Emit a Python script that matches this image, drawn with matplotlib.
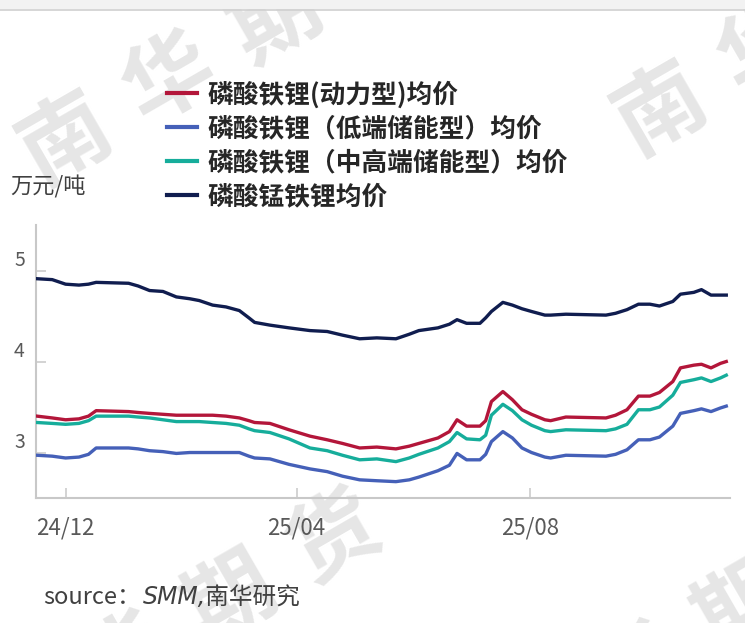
"""
Gráfico de preços médios de fosfato de ferro-lítio (LFP / LMFP).
"""
import matplotlib
matplotlib.use('Agg')
import matplotlib.pyplot as plt
import matplotlib.transforms as mtransforms
from matplotlib.patches import Rectangle
from matplotlib.lines import Line2D
import pandas as pd

plt.rcParams['font.family'] = ['Noto Sans CJK SC', 'DejaVu Sans']

# Datas (aproximadas)
datas = [
    '2024-11-16', '2024-11-24', '2024-12-01', '2024-12-08', '2024-12-13',
    '2024-12-17', '2025-01-03', '2025-01-08', '2025-01-14', '2025-01-21',
    '2025-01-28', '2025-02-04', '2025-02-09', '2025-02-16', '2025-02-23',
    '2025-03-02', '2025-03-07', '2025-03-10', '2025-03-18', '2025-03-28',
    '2025-04-08', '2025-04-17', '2025-04-25', '2025-05-04', '2025-05-13',
    '2025-05-23', '2025-05-30', '2025-06-04', '2025-06-14', '2025-06-20',
    '2025-06-24', '2025-06-29', '2025-07-06', '2025-07-09', '2025-07-12',
    '2025-07-18', '2025-07-23', '2025-07-28', '2025-08-02', '2025-08-09',
    '2025-08-12', '2025-08-20', '2025-09-10', '2025-09-15', '2025-09-21',
    '2025-09-27', '2025-10-03', '2025-10-08', '2025-10-15', '2025-10-19',
    '2025-10-26', '2025-10-30', '2025-11-04', '2025-11-09', '2025-11-12',
]

# 磷酸铁锂(动力型)均价
lfp_dinamica = [
    3.40, 3.38, 3.36, 3.37, 3.40, 3.46, 3.45, 3.44, 3.43, 3.42,
    3.41, 3.41, 3.41, 3.41, 3.40, 3.38, 3.35, 3.33, 3.32, 3.25,
    3.18, 3.14, 3.10, 3.05, 3.06, 3.04, 3.07, 3.10, 3.16, 3.23,
    3.36, 3.29, 3.29, 3.35, 3.56, 3.67, 3.58, 3.47, 3.42, 3.36,
    3.35, 3.39, 3.38, 3.41, 3.47, 3.62, 3.62, 3.66, 3.78, 3.93,
    3.96, 3.97, 3.93, 3.98, 4.00,
]

# 磷酸铁锂（低端储能型）均价
lfp_armaz_baixo = [
    2.97, 2.96, 2.94, 2.95, 2.98, 3.05, 3.05, 3.04, 3.02, 3.01,
    2.99, 3.00, 3.00, 3.00, 3.00, 3.00, 2.96, 2.94, 2.93, 2.87,
    2.82, 2.79, 2.74, 2.70, 2.69, 2.68, 2.70, 2.73, 2.80, 2.86,
    2.99, 2.92, 2.92, 2.98, 3.12, 3.23, 3.16, 3.05, 3.00, 2.95,
    2.94, 2.97, 2.96, 2.98, 3.03, 3.14, 3.14, 3.17, 3.29, 3.43,
    3.46, 3.48, 3.45, 3.49, 3.51,
]

# 磷酸铁锂（中高端储能型）均价
lfp_armaz_alto = [
    3.33, 3.32, 3.31, 3.32, 3.35, 3.40, 3.40, 3.39, 3.38, 3.36,
    3.34, 3.34, 3.34, 3.33, 3.32, 3.30, 3.26, 3.24, 3.22, 3.15,
    3.05, 3.02, 2.97, 2.92, 2.93, 2.90, 2.94, 2.98, 3.05, 3.12,
    3.22, 3.15, 3.14, 3.19, 3.41, 3.53, 3.46, 3.36, 3.30, 3.24,
    3.23, 3.25, 3.24, 3.26, 3.31, 3.47, 3.47, 3.50, 3.63, 3.77,
    3.80, 3.82, 3.78, 3.82, 3.85,
]

# 磷酸锰铁锂均价
lmfp = [
    4.91, 4.90, 4.85, 4.84, 4.85, 4.87, 4.86, 4.83, 4.78, 4.77,
    4.71, 4.69, 4.67, 4.62, 4.60, 4.56, 4.48, 4.43, 4.40, 4.37,
    4.34, 4.33, 4.29, 4.25, 4.26, 4.25, 4.30, 4.34, 4.37, 4.41,
    4.46, 4.42, 4.42, 4.48, 4.55, 4.65, 4.62, 4.58, 4.55, 4.51,
    4.51, 4.52, 4.51, 4.53, 4.57, 4.63, 4.63, 4.61, 4.66, 4.74,
    4.76, 4.79, 4.73, 4.73, 4.73,
]

rotulos = [
    '磷酸铁锂(动力型)均价',
    '磷酸铁锂（低端储能型）均价',
    '磷酸铁锂（中高端储能型）均价',
    '磷酸锰铁锂均价',
]
cores = ['#b3163a', '#4560b8', '#16ad9b', '#101d4f']
yticks = [3, 4, 5]
xticks = ['2024-12-01', '2025-04-01', '2025-08-01']
xtick_labels = ['24/12', '25/04', '25/08']


def criar_grafico(output_path='out.png'):
    fig = plt.figure(figsize=(7.45, 6.23), dpi=100)
    ax = fig.add_axes([0.0483, 0.2006, 0.9317, 0.4382])
    ax.patch.set_alpha(0)

    x = pd.to_datetime(datas)
    series = [lfp_dinamica, lfp_armaz_baixo, lfp_armaz_alto, lmfp]
    for valores, cor, rotulo in zip(series, cores, rotulos):
        ax.plot(x, valores, color=cor, lw=2.4, label=rotulo, zorder=3)

    ax.set_xlim(pd.Timestamp('2024-11-15 12:00'), pd.Timestamp('2025-11-14'))
    ax.set_ylim(2.5, 5.5)

    # Eixos: só esquerdo e inferior, cinza claro
    for lado in ['top', 'right']:
        ax.spines[lado].set_visible(False)
    for lado in ['left', 'bottom']:
        ax.spines[lado].set_color('#c8c8c8')
        ax.spines[lado].set_linewidth(1.5)

    ax.set_yticks(yticks)
    ax.set_xticks(pd.to_datetime(xticks))
    ax.set_xticklabels(xtick_labels)
    ax.tick_params(axis='both', direction='in', length=7.5, width=1.1,
                   color='#c8c8c8', labelcolor='#595959')
    ax.tick_params(axis='x', labelsize=16, pad=13)
    ax.tick_params(axis='y', labelsize=14, pad=8)

    # Rótulos do eixo Y ficam um pouco acima das marcas
    desloc = mtransforms.ScaledTranslation(0, 0.13, fig.dpi_scale_trans)
    for lab in ax.get_yticklabels():
        lab.set_transform(lab.get_transform() + desloc)

    fig.text(10 / 745, 1 - 187 / 623, '万元/吨', fontsize=16,
             color='#404040', va='center', ha='left')

    # Legenda
    handles = [Line2D([], [], color=c, lw=3) for c in cores]
    fig.legend(handles, rotulos, loc='upper left',
               bbox_to_anchor=(167 / 745, 1 - 81 / 623), frameon=False,
               prop={'size': 18.5, 'weight': 'bold'}, labelcolor='#262626',
               handlelength=1.15, handletextpad=0.42, labelspacing=0.27,
               borderpad=0, borderaxespad=0)

    # Fonte
    fig.text(43 / 745, 1 - 597 / 623, 'source：', fontsize=17,
             color='#404040', va='center', ha='left')
    fig.text(143 / 745, 1 - 597 / 623, 'SMM,南华研究', fontsize=17,
             color='#404040', va='center', ha='left', style='italic',
             family=['DejaVu Sans', 'Noto Sans CJK SC'])

    # Faixa cinza no topo
    fig.patches.append(Rectangle((0, 1 - 9 / 623), 1, 9 / 623,
                                 transform=fig.transFigure,
                                 facecolor='#f2f2f2', edgecolor='none'))
    fig.lines.append(Line2D([0, 1], [1 - 9.5 / 623] * 2,
                            transform=fig.transFigure, color='#d0d0d0', lw=1.2))

    # Marca d'água (atrás de tudo)
    inicios = [(65, 140), (660, 110), (20, 720), (530, 730)]
    for x0, y0 in inicios:
        for i, ch in enumerate('南华期货'):
            fig.text((x0 + i * 105) / 745, 1 - (y0 - i * 60) / 623, ch,
                     fontsize=64, color='#e6e6e6', rotation=30,
                     fontweight='bold', ha='center', va='center', zorder=-1)

    try:
        fig.savefig(output_path, dpi=100)
        print(f"Gráfico salvo em: {output_path}")
    except Exception as e:
        print(f"Erro ao salvar o gráfico: {e}")
    finally:
        plt.close(fig)


criar_grafico()
